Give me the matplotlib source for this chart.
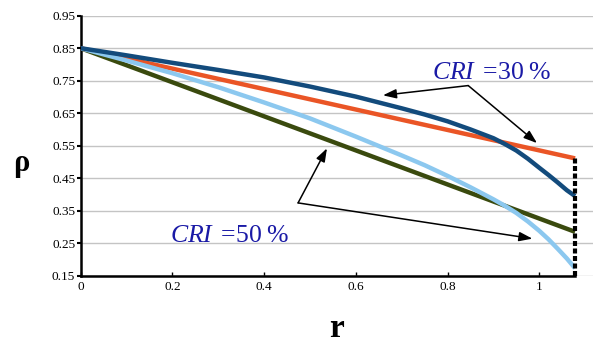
import matplotlib
matplotlib.use("Agg")
import matplotlib.pyplot as plt

plt.rcParams["mathtext.fontset"] = "custom"
plt.rcParams["mathtext.rm"] = "Liberation Serif"
plt.rcParams["mathtext.it"] = "Liberation Serif:italic"
plt.rcParams["mathtext.bf"] = "Liberation Serif:bold"

# Radial positions and density profiles
r_nodes = [0.0, 0.1, 0.2, 0.3, 0.4, 0.5, 0.6, 0.7, 0.75, 0.8, 0.85, 0.9, 0.925,
           0.95, 0.975, 1.0, 1.02, 1.04, 1.06, 1.078]
rho_dark_blue = [0.85, 0.828, 0.805, 0.783, 0.760, 0.732, 0.701, 0.665, 0.646,
                 0.625, 0.600, 0.573, 0.555, 0.535, 0.510, 0.482, 0.460, 0.437,
                 0.413, 0.395]
rho_light_blue = [0.85, 0.812, 0.773, 0.730, 0.683, 0.634, 0.578, 0.520, 0.490,
                  0.457, 0.422, 0.385, 0.365, 0.343, 0.317, 0.288, 0.262, 0.233,
                  0.203, 0.173]
r_linear = [0.0, 1.078]
rho_orange = [0.85, 0.511]
rho_olive = [0.85, 0.285]

r_edge = 1.078
yticks = [0.15, 0.25, 0.35, 0.45, 0.55, 0.65, 0.75, 0.85, 0.95]
xticks = [0, 0.2, 0.4, 0.6, 0.8, 1]
xtick_labels = ["0", "0.2", "0.4", "0.6", "0.8", "1"]

serif = "Liberation Serif"

fig = plt.figure(figsize=(5.95, 3.51), dpi=100)
ax = fig.add_axes([0.1356, 0.2145, 0.861, 0.7408])
ax.set_xlim(0, 1.117)
ax.set_ylim(0.15, 0.95)

ax.set_yticks(yticks)
ax.set_yticklabels([f"{v:.2f}" for v in yticks], fontfamily=serif, fontsize=9.5)
ax.set_xticks(xticks)
ax.set_xticklabels(xtick_labels, fontfamily=serif, fontsize=9.5)
ax.yaxis.grid(True, color="#c4c4c4", linewidth=1.0)
ax.set_axisbelow(True)
for s in ["top", "right"]:
    ax.spines[s].set_visible(False)
ax.spines["left"].set_linewidth(1.8)
ax.spines["bottom"].set_linewidth(1.8)
ax.spines["bottom"].set_bounds(0, r_edge)
ax.tick_params(axis="y", direction="out", length=3, width=1.5, pad=1)
ax.tick_params(axis="x", direction="in", length=3, width=1.0, pad=4)

lw = 3.2
ax.plot(r_linear, rho_olive, color="#3a4a0e", lw=lw, solid_capstyle="butt", zorder=3)
ax.plot(r_nodes, rho_light_blue, color="#8cc8ef", lw=lw, solid_capstyle="butt",
        solid_joinstyle="round", zorder=4)
ax.plot(r_linear, rho_orange, color="#ea5526", lw=lw, solid_capstyle="butt", zorder=3)
ax.plot(r_nodes, rho_dark_blue, color="#134b7c", lw=lw, solid_capstyle="butt",
        solid_joinstyle="round", zorder=5)

# boundary marker at the outer radius
ax.plot([r_edge, r_edge], [0.15, rho_orange[1]], color="black", lw=3.0,
        linestyle=(0, (1.2, 0.6)), zorder=6)

ax.set_ylabel("ρ", fontfamily=serif, fontweight="bold", fontsize=22, rotation=0,
              va="center")
ax.yaxis.set_label_coords(-0.115, 0.43)
ax.set_xlabel("r", fontfamily=serif, fontweight="bold", fontsize=24, labelpad=14)

label_color = "#1a1aa6"
ax.text(0.895, 0.777, r"$\mathit{CRI}\;=\!30\;\%$", fontsize=18.5, color=label_color,
        ha="center", va="center")
ax.text(0.325, 0.276, r"$\mathit{CRI}\;=\!50\;\%$", fontsize=18.5, color=label_color,
        ha="center", va="center")

arrow_kw = dict(arrowstyle="-|>,head_length=0.8,head_width=0.28", color="black", lw=1.1,
                shrinkA=0, shrinkB=0)
# CRI 30% pointers
v30 = (0.845, 0.735)
ax.annotate("", xy=(0.659, 0.705), xytext=v30, arrowprops=arrow_kw, zorder=7)
ax.annotate("", xy=(0.995, 0.558), xytext=v30, arrowprops=arrow_kw, zorder=7)
# CRI 50% pointers
v50 = (0.474, 0.374)
ax.annotate("", xy=(0.537, 0.542), xytext=v50, arrowprops=arrow_kw, zorder=7)
ax.annotate("", xy=(0.985, 0.264), xytext=v50, arrowprops=arrow_kw, zorder=7)

fig.savefig("out.png", dpi=100)
